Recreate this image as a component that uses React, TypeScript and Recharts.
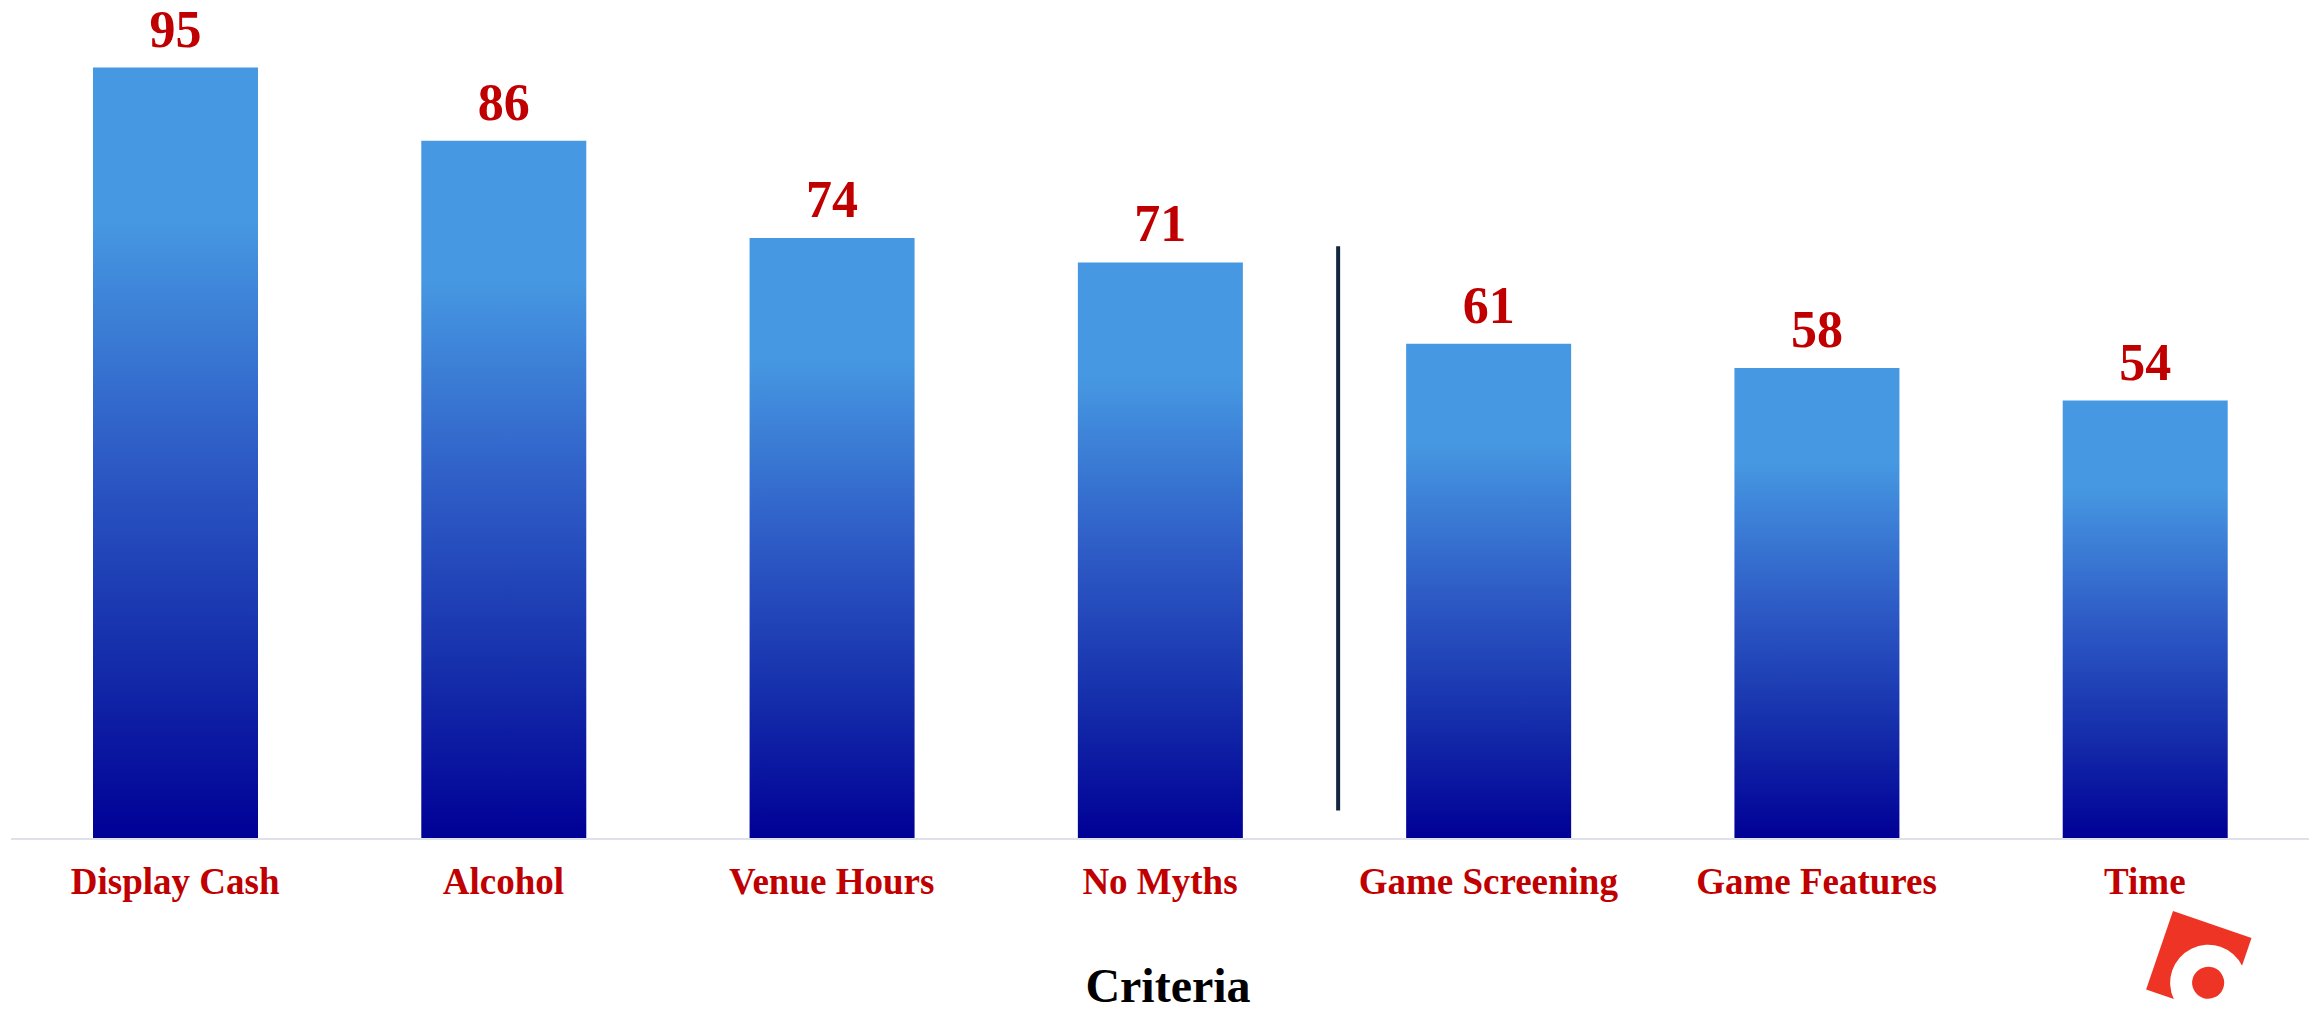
import { Bar, BarChart, LabelList, ReferenceLine, XAxis, YAxis } from "recharts";

// Criteria scores.
const criteria = [
  "Display Cash",
  "Alcohol",
  "Venue Hours",
  "No Myths",
  "Game Screening",
  "Game Features",
  "Time",
];
const scores = [95, 86, 74, 71, 61, 58, 54];

const yDomain = [0, 100];
// vertical divider sits after "No Myths", spanning roughly 3.5 → 73 on the value axis
const dividerAfter = "No Myths";
const dividerSpan = [3.5, 73];

const RED = "#C00000";
const FONT = '"Liberation Serif", "Times New Roman", serif';

const data = criteria.map((name, i) => ({ name, score: scores[i] }));

/** Divider drawn at the end of the category band, nudged a bit right like the original. */
function Divider(props: any) {
  const { x1, y1, x2, y2 } = props;
  return (
    <line
      x1={x1 + 14}
      x2={x2 + 14}
      y1={y1}
      y2={y2}
      stroke="#13253F"
      strokeWidth={4}
    />
  );
}

function Logo() {
  return (
    <svg
      width={2323}
      height={1013}
      style={{ position: "absolute", left: 0, top: 0, pointerEvents: "none" }}
    >
      <g transform="translate(2173,911) rotate(18.9)">
        <rect x={0} y={0} width={83} height={83} fill="#EE3424" />
        <circle cx={56.5} cy={56.5} r={38} fill="#fff" />
        <circle cx={56.5} cy={56.5} r={16} fill="#EE3424" />
      </g>
    </svg>
  );
}

export default function App() {
  return (
    <div
      style={{
        position: "absolute",
        left: 0,
        top: 0,
        width: 2323,
        height: 1013,
        background: "#fff",
        overflow: "hidden",
      }}
    >
      <BarChart
        width={2323}
        height={1013}
        data={data}
        margin={{ top: 27, right: 14, bottom: 0, left: 11 }}
      >
        <defs>
          <linearGradient id="barFill" x1="0" y1="0" x2="0" y2="1">
            <stop offset="0" stopColor="#4698E2" />
            <stop offset="0.2" stopColor="#4698E2" />
            <stop offset="0.5" stopColor="#2E5CC6" />
            <stop offset="0.75" stopColor="#1630AC" />
            <stop offset="1" stopColor="#000096" />
          </linearGradient>
        </defs>
        <XAxis
          dataKey="name"
          height={174}
          axisLine={{ stroke: "#DEE2E8", strokeWidth: 2 }}
          tickLine={false}
          tickSize={0}
          tickMargin={29}
          interval={0}
          tick={{
            fill: RED,
            fontFamily: FONT,
            fontWeight: 700,
            fontSize: 37,
          }}
          label={{
            value: "Criteria",
            position: "insideBottom",
            offset: 11,
            dx: 8,
            fill: "#000",
            fontFamily: FONT,
            fontWeight: 700,
            fontSize: 48,
          }}
        />
        <YAxis hide domain={yDomain} />
        <ReferenceLine
          segment={[
            { x: dividerAfter, y: dividerSpan[0] },
            { x: dividerAfter, y: dividerSpan[1] },
          ]}
          position="end"
          ifOverflow="visible"
          shape={Divider}
        />
        <Bar
          dataKey="score"
          fill="url(#barFill)"
          barSize={165}
          isAnimationActive={false}
        >
          <LabelList
            dataKey="score"
            position="top"
            offset={21}
            fill={RED}
            fontFamily={FONT}
            fontWeight={700}
            fontSize={52}
          />
        </Bar>
      </BarChart>
      <Logo />
    </div>
  );
}
